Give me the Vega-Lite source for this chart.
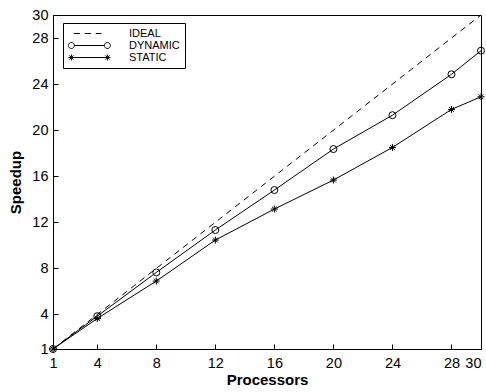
{
  "$schema": "https://vega.github.io/schema/vega-lite/v6.json",
  "width": 428,
  "height": 334,
  "autosize": {"type": "none"},
  "padding": {"left": 53, "top": 15, "right": 5, "bottom": 43},
  "background": "white",
  "config": {
    "view": {"stroke": "black", "strokeWidth": 1},
    "font": "Liberation Sans",
    "axis": {
      "grid": false,
      "domainColor": "black",
      "domainWidth": 1,
      "tickColor": "black",
      "tickWidth": 1,
      "labelColor": "black",
      "titleColor": "black",
      "labelFont": "Liberation Sans",
      "titleFont": "Liberation Sans",
      "labelFontSize": 14.5,
      "titleFontSize": 15,
      "titleFontWeight": "bold"
    },
    "legend": {
      "labelFont": "Liberation Sans",
      "labelFontSize": 11,
      "labelColor": "black"
    }
  },
  "data": {
    "values": [
      {"series": "IDEAL", "p": 1, "s": 1},
      {"series": "IDEAL", "p": 30, "s": 30},
      {"series": "DYNAMIC", "p": 1, "s": 1},
      {"series": "DYNAMIC", "p": 4, "s": 3.85},
      {"series": "DYNAMIC", "p": 8, "s": 7.65},
      {"series": "DYNAMIC", "p": 12, "s": 11.33},
      {"series": "DYNAMIC", "p": 16, "s": 14.8},
      {"series": "DYNAMIC", "p": 20, "s": 18.36},
      {"series": "DYNAMIC", "p": 24, "s": 21.3},
      {"series": "DYNAMIC", "p": 28, "s": 24.85},
      {"series": "DYNAMIC", "p": 30, "s": 26.9},
      {"series": "STATIC", "p": 1, "s": 1},
      {"series": "STATIC", "p": 4, "s": 3.65},
      {"series": "STATIC", "p": 8, "s": 6.9},
      {"series": "STATIC", "p": 12, "s": 10.46},
      {"series": "STATIC", "p": 16, "s": 13.15},
      {"series": "STATIC", "p": 20, "s": 15.67},
      {"series": "STATIC", "p": 24, "s": 18.5},
      {"series": "STATIC", "p": 28, "s": 21.8},
      {"series": "STATIC", "p": 30, "s": 22.9}
    ]
  },
  "resolve": {"scale": {"shape": "independent"}},
  "layer": [
    {
      "transform": [{"filter": "datum.series === 'IDEAL'"}],
      "mark": {"type": "line", "color": "black", "strokeWidth": 1, "strokeDash": [6, 5]},
      "encoding": {
        "x": {
          "field": "p", "type": "quantitative",
          "scale": {"domain": [1, 30], "nice": false, "zero": false},
          "axis": {"orient": "bottom", "title": "Processors", "values": [1, 4, 8, 12, 16, 20, 24, 28, 30], "tickSize": -5, "labelPadding": 12, "titlePadding": 3, "labelFlush": false, "labelAlign": {"expr": "datum.value == 30 ? 'right' : 'center'"}}
        },
        "y": {
          "field": "s", "type": "quantitative",
          "scale": {"domain": [1, 30], "nice": false, "zero": false},
          "axis": {"orient": "left", "title": "Speedup", "values": [1, 4, 8, 12, 16, 20, 24, 28, 30], "tickSize": -5, "labelPadding": 10, "titlePadding": 8, "labelFlush": false}
        }
      }
    },
    {
      "transform": [{"filter": "datum.series !== 'IDEAL'"}],
      "mark": {"type": "line", "color": "black", "strokeWidth": 1},
      "encoding": {
        "x": {"field": "p", "type": "quantitative"},
        "y": {"field": "s", "type": "quantitative"},
        "detail": {"field": "series"}
      }
    },
    {
      "transform": [{"filter": "datum.series !== 'IDEAL'"}],
      "mark": {"type": "point", "filled": false, "size": 49, "strokeWidth": 1, "color": "black", "opacity": 1},
      "encoding": {
        "x": {"field": "p", "type": "quantitative"},
        "y": {"field": "s", "type": "quantitative"},
        "shape": {
          "field": "series", "type": "nominal",
          "scale": {"domain": ["DYNAMIC", "STATIC"], "range": ["circle", "M-1,0L1,0M0,-1L0,1M-0.7,-0.7L0.7,0.7M-0.7,0.7L0.7,-0.7"]},
          "legend": null
        }
      }
    },
    {
      "transform": [{"filter": "false"}],
      "mark": {"type": "point", "filled": false, "size": 36, "strokeWidth": 1, "color": "black", "opacity": 1},
      "encoding": {
        "x": {"field": "p", "type": "quantitative"},
        "y": {"field": "s", "type": "quantitative"},
        "shape": {
          "field": "series", "type": "nominal",
          "scale": {
            "domain": ["IDEAL", "DYNAMIC", "STATIC"],
            "range": [
              "M0.1,0L2.1,0M3.77,0L5.77,0M7.43,0L9.33,0",
              "M0.3,0L10.3,0M0.3,0A1,1 0 1,1 -1.7,0A1,1 0 1,1 0.3,0M12.3,0A1,1 0 1,1 10.3,0A1,1 0 1,1 12.3,0",
              "M-0.7,0L11.3,0M-1.7,0L0.3,0M-0.7,-1L-0.7,1M-1.4,-0.7L0,0.7M-1.4,0.7L0,-0.7M10.3,0L12.3,0M11.3,-1L11.3,1M10.6,-0.7L12,0.7M10.6,0.7L12,-0.7"
            ]
          },
          "legend": {
            "title": null,
            "orient": "none",
            "legendX": 10,
            "legendY": 8,
            "padding": 5,
            "strokeColor": "black",
            "fillColor": "white",
            "symbolSize": 36,
            "symbolStrokeColor": "black",
            "symbolFillColor": "transparent",
            "symbolStrokeWidth": 1,
            "symbolOffset": 0,
            "labelOffset": 50,
            "rowPadding": 0
          }
        }
      }
    }
  ]
}
